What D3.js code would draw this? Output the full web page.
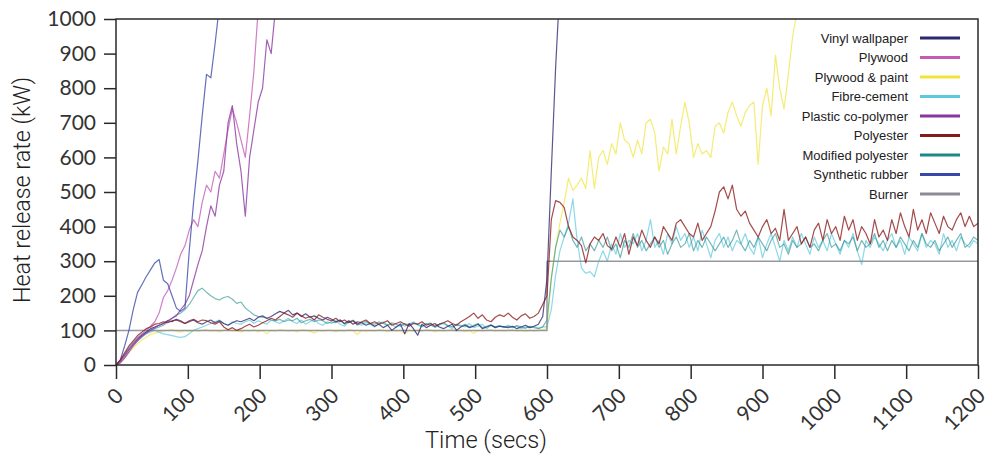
<!DOCTYPE html>
<html>
<head>
<meta charset="utf-8">
<script src="https://cdn.jsdelivr.net/npm/d3@7"></script>
<style>
body { margin: 0; background: #fff; }
.chart { width: 990px; height: 456px; }
</style>
</head>
<body>
<div class="chart"></div>
<script>
'use strict';

/*---------------------------------------------------------------
data | every series sampled each 6 secs, burner given as steps
---------------------------------------------------------------*/
var sampleSecs = 6;

var xTicks = [0, 100, 200, 300, 400, 500, 600, 700, 800, 900, 1000, 1100, 1200];
var yTicks = [0, 100, 200, 300, 400, 500, 600, 700, 800, 900, 1000];

var seriesNames = ['Vinyl wallpaper', 'Plywood', 'Plywood & paint', 'Fibre-cement',
    'Plastic co-polymer', 'Polyester', 'Modified polyester', 'Synthetic rubber', 'Burner'];
var seriesColors = ['#2b2870', '#c45bb5', '#f0e43a', '#5bc8e0',
    '#8a35a0', '#8a1818', '#1e8a88', '#3848a8', '#8c8c96'];

var vinylWallpaper = [
    0, 12, 28, 45, 60, 75, 85, 95, 105, 110,
    115, 120, 128, 125, 132, 128, 120, 125, 130, 122,
    118, 125, 130, 122, 128, 120, 115, 122, 128, 125,
    130, 135, 128, 138, 142, 135, 140, 148, 155, 150,
    158, 145, 150, 140, 148, 138, 142, 135, 130, 138,
    132, 125, 130, 120, 128, 118, 125, 122, 115, 120,
    112, 118, 108, 115, 100, 110, 118, 90, 120, 105,
    86, 118, 108, 115, 120, 110, 105, 112, 118, 100,
    110, 115, 108, 112, 118, 105, 110, 115, 108, 112,
    110, 108, 112, 105, 110, 115, 108, 112, 118, 140,
    250, 560, 860, 1100
];

var plywood = [
    0, 10, 28, 45, 62, 78, 90, 100, 112, 125,
    150, 195, 215, 245, 280, 320, 345, 390, 420, 400,
    470, 520, 500, 560, 540, 610, 680, 740, 700, 650,
    600, 720, 850, 1030
];

var plywoodPaint = [
    0, 8, 20, 35, 50, 62, 72, 80, 88, 92,
    95, 98, 100, 102, 98, 95, 100, 96, 100, 98,
    100, 102, 98, 100, 96, 100, 103, 98, 100, 95,
    100, 98, 102, 96, 100, 90, 100, 98, 102, 100,
    98, 100, 96, 102, 100, 98, 92, 100, 98, 100,
    100, 96, 100, 98, 102, 100, 88, 100, 98, 100,
    98, 102, 100, 96, 100, 98, 100, 90, 100, 98,
    100, 98, 102, 100, 96, 100, 98, 100, 102, 98,
    100, 96, 100, 92, 100, 98, 100, 102, 98, 100,
    98, 100, 102, 98, 100, 96, 100, 98, 100, 102,
    105, 250, 340, 410, 470, 540, 505, 520, 540, 510,
    620, 510, 600, 620, 580, 640, 610, 700, 650, 640,
    600, 650, 610, 700, 710, 670, 560, 630, 610, 710,
    610, 690, 760, 700, 600, 640, 610, 620, 600, 690,
    700, 670, 730, 760, 720, 690, 730, 750, 760, 580,
    750, 800, 720, 895, 800, 740, 840, 950, 1020
];

var fibreCement = [
    0, 10, 25, 45, 60, 70, 80, 90, 95, 100,
    95, 90, 88, 85, 82, 80, 82, 90, 100, 105,
    110, 115, 120, 125, 130, 120, 115, 125, 120, 118,
    125, 130, 120, 128, 122, 118, 130, 125, 120, 128,
    135, 125, 120, 130, 118, 125, 132, 120, 115, 125,
    120, 128, 118, 112, 125, 130, 120, 115, 122, 118,
    110, 120, 125, 115, 118, 108, 120, 112, 118, 125,
    115, 110, 118, 122, 108, 115, 120, 112, 105, 118,
    115, 110, 120, 108, 112, 118, 105, 115, 110, 112,
    108, 115, 110, 112, 105, 110, 108, 112, 106, 110,
    110, 160, 260, 330, 370, 410, 480, 360, 280, 265,
    270, 255, 300, 330, 300, 350, 320, 380, 340, 360,
    350, 380, 330, 360, 420, 340, 360, 320, 380, 350,
    400, 360, 380, 340, 370, 330, 390, 350, 310, 360,
    380, 340, 370, 330, 360, 350, 380, 340, 320, 370,
    310, 350, 380, 340, 300, 360, 330, 370, 340, 380,
    350, 320, 370, 340, 360, 330, 380, 350, 320, 360,
    340, 380, 330, 290, 360, 340, 370, 350, 330, 360,
    380, 340, 360, 320, 370, 350, 330, 380, 340, 360,
    350, 320, 380, 340, 360, 330, 370, 350, 340, 360,
    350
];

var plasticCoPolymer = [
    0, 6, 20, 38, 55, 70, 82, 92, 100, 108,
    115, 120, 128, 135, 142, 160, 175, 200, 245, 290,
    330, 400, 460, 430, 520, 560, 700, 750, 640, 560,
    430, 600, 680, 760, 800, 940, 900, 1030
];

var polyester = [
    0, 15, 35, 55, 70, 85, 95, 105, 110, 118,
    120, 125, 122, 128, 130, 125, 120, 128, 132, 125,
    130, 128, 122, 118, 125, 110, 102, 108, 100, 105,
    112, 118, 110, 115, 122, 128, 135, 130, 140, 150,
    145, 138, 150, 142, 135, 140, 130, 145, 138, 132,
    128, 135, 125, 130, 122, 128, 118, 125, 130, 120,
    125, 118, 122, 128, 115, 120, 125, 118, 112, 120,
    118, 125, 115, 120, 112, 118, 122, 128, 120, 115,
    125, 132, 140, 150, 135, 145, 130, 125, 138, 145,
    140, 150, 138, 130, 142, 148, 135, 140, 150, 175,
    200, 420, 475, 470, 455, 400, 370, 360, 345, 295,
    350, 370, 360, 380, 345, 335, 370, 340, 380, 320,
    370, 345, 390, 360, 340, 370, 350, 400, 380, 360,
    410, 420, 400, 380, 370, 410, 360, 380, 400, 445,
    500, 515, 480, 520, 450, 430, 445, 410, 390, 370,
    400, 420, 380, 395, 360, 450, 360, 380, 400, 350,
    370, 340, 390, 410, 360, 420, 380, 400, 360, 430,
    390, 420, 360, 400, 380, 350, 420, 370, 390, 360,
    420, 380, 440, 400, 370, 450, 390, 420, 380, 440,
    410, 380, 430, 400, 390, 420, 440, 400, 430, 400,
    410
];

var modifiedPolyester = [
    0, 12, 30, 50, 65, 78, 88, 95, 100, 105,
    110, 115, 125, 135, 145, 150, 160, 175, 195, 215,
    222, 210, 200, 192, 188, 195, 198, 190, 178, 182,
    165, 155, 145, 140, 138, 135, 130, 128, 132, 125,
    130, 128, 135, 122, 128, 132, 125, 130, 128, 120,
    125, 122, 130, 118, 125, 128, 115, 122, 126, 120,
    118, 125, 120, 115, 122, 118, 112, 120, 116, 122,
    118, 112, 120, 115, 110, 118, 122, 114, 110, 116,
    112, 118, 110, 115, 120, 108, 112, 116, 110, 114,
    110, 112, 108, 114, 110, 106, 112, 108, 105, 110,
    130, 250, 340, 390, 370, 400, 360, 340, 370, 330,
    350, 330, 360, 340, 370, 330, 350, 310, 360, 340,
    380, 340, 360, 330, 350, 370, 340, 360, 320, 350,
    370, 340, 350, 380, 330, 360, 340, 370, 350, 330,
    350, 370, 340, 360, 390, 350, 330, 360, 340, 370,
    350, 330, 360, 380, 340, 350, 320, 360, 340, 350,
    370, 340, 350, 330, 360, 380, 340, 350, 330, 360,
    350, 370, 330, 360, 340, 350, 380, 340, 360, 330,
    360, 340, 370, 350, 330, 360, 340, 380, 350, 340,
    360, 330, 350, 370, 340, 360, 380, 340, 350, 370,
    360
];

var syntheticRubber = [
    0, 15, 55, 100, 160, 210, 232, 255, 275, 295,
    305, 245, 235, 200, 165, 155, 165, 330, 470, 590,
    720, 840, 830, 930, 1040
];

var burnerTimes = [0, 600, 600, 1200];
var burnerValues = [100, 100, 300, 300];

/*---------------------------------------------------------------
set width + height
---------------------------------------------------------------*/
var w = 990,
    h = 456,
    plotLeft = 116,
    plotRight = 978,
    plotTop = 19,
    plotBottom = 365;

var x = d3.scaleLinear().domain([0, 1200]).range([plotLeft, plotRight]);
var y = d3.scaleLinear().domain([0, 1000]).range([plotBottom, plotTop]);

var svg = d3.select('.chart')
    .append('svg')
    .attr('width', w)
    .attr('height', h);

svg.append('rect')
    .attr('width', w)
    .attr('height', h)
    .attr('fill', '#fff');

svg.append('clipPath')
    .attr('id', 'plot-clip')
    .append('rect')
    .attr('x', plotLeft)
    .attr('y', plotTop)
    .attr('width', plotRight - plotLeft)
    .attr('height', plotBottom - plotTop);

/*---------------------------------------------------------------
lines
---------------------------------------------------------------*/
var sampled = function(values) {
    return values.map(function(v, i) {
        return [i * sampleSecs, v];
    });
};

var line = d3.line()
    .x(function(d) { return x(d[0]); })
    .y(function(d) { return y(d[1]); });

// draw order, polyester ends up on top
var plotted = [
    { idx: 2, points: sampled(plywoodPaint) },
    { idx: 3, points: sampled(fibreCement) },
    { idx: 6, points: sampled(modifiedPolyester) },
    { idx: 8, points: burnerTimes.map(function(t, i) { return [t, burnerValues[i]]; }) },
    { idx: 0, points: sampled(vinylWallpaper) },
    { idx: 1, points: sampled(plywood) },
    { idx: 4, points: sampled(plasticCoPolymer) },
    { idx: 7, points: sampled(syntheticRubber) },
    { idx: 5, points: sampled(polyester) }
];

// plotted traces come out paler than the legend keys
var traceOpacity = { 2: 0.7, 3: 0.7, 6: 0.6, 8: 0.9 };

svg.append('g')
    .attr('clip-path', 'url(#plot-clip)')
    .selectAll('path')
    .data(plotted)
    .enter()
    .append('path')
    .attr('d', function(d) { return line(d.points); })
    .attr('fill', 'none')
    .attr('stroke', function(d) { return seriesColors[d.idx]; })
    .attr('stroke-width', function(d) { return d.idx === 8 ? 1.5 : 1.2; })
    .attr('stroke-opacity', function(d) { return traceOpacity[d.idx] || 0.78; })
    .attr('stroke-linejoin', 'round');

/*---------------------------------------------------------------
frame + axes
---------------------------------------------------------------*/
svg.append('rect')
    .attr('x', plotLeft)
    .attr('y', plotTop)
    .attr('width', plotRight - plotLeft)
    .attr('height', plotBottom - plotTop)
    .attr('fill', 'none')
    .attr('stroke', '#2a2a2a')
    .attr('stroke-width', 1.5);

var yAxis = svg.append('g')
    .attr('transform', 'translate(' + plotLeft + ',0)')
    .call(d3.axisLeft(y).tickValues(yTicks).tickFormat(d3.format('d'))
        .tickSize(12).tickSizeOuter(0).tickPadding(8));

var xAxis = svg.append('g')
    .attr('transform', 'translate(0,' + plotBottom + ')')
    .call(d3.axisBottom(x).tickValues(xTicks).tickFormat(d3.format('d'))
        .tickSize(14).tickSizeOuter(0));

[yAxis, xAxis].forEach(function(a) {
    a.select('.domain').remove();
    a.selectAll('line').attr('stroke', '#2a2a2a').attr('stroke-width', 1.5);
    a.selectAll('text')
        .attr('fill', '#333')
        .style('font-family', 'Lato, sans-serif')
        .style('font-size', '21px');
});

xAxis.selectAll('text')
    .attr('x', 0)
    .attr('y', 0)
    .attr('dy', '0.35em')
    .attr('text-anchor', 'end')
    .attr('transform', 'translate(3,27) rotate(-45)');

// axis titles
svg.append('text')
    .attr('transform', 'translate(30,190) rotate(-90)')
    .attr('text-anchor', 'middle')
    .attr('fill', '#222')
    .attr('textLength', 226)
    .attr('lengthAdjust', 'spacingAndGlyphs')
    .style('font-family', 'Roboto, sans-serif')
    .style('font-weight', 300)
    .style('font-size', '23px')
    .text('Heat release rate (kW)');

svg.append('text')
    .attr('x', 486)
    .attr('y', 448)
    .attr('text-anchor', 'middle')
    .attr('fill', '#222')
    .attr('textLength', 122)
    .attr('lengthAdjust', 'spacingAndGlyphs')
    .style('font-family', 'Roboto, sans-serif')
    .style('font-weight', 300)
    .style('font-size', '23px')
    .text('Time (secs)');

/*---------------------------------------------------------------
legend
---------------------------------------------------------------*/
var legendRows = svg.append('g')
    .selectAll('g')
    .data(seriesNames)
    .enter()
    .append('g')
    .attr('transform', function(d, i) { return 'translate(0,' + (38 + i * 19.5) + ')'; });

legendRows.append('text')
    .attr('x', 908)
    .attr('dy', '0.35em')
    .attr('text-anchor', 'end')
    .attr('fill', '#222')
    .style('font-family', '"Liberation Sans", Arial, sans-serif')
    .style('font-size', '13px')
    .text(function(d) { return d; });

legendRows.append('line')
    .attr('x1', 920)
    .attr('x2', 960)
    .attr('stroke', function(d, i) { return seriesColors[i]; })
    .attr('stroke-width', 3);
</script>
</body>
</html>
